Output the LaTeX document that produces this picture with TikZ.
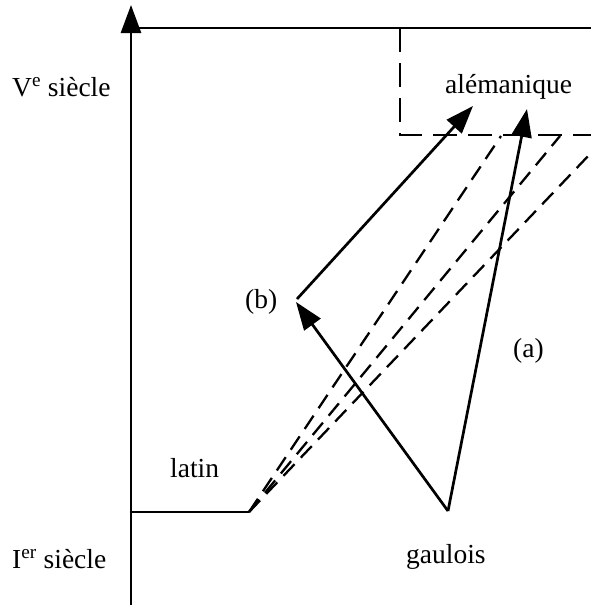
\documentclass[tikz,border=0pt]{standalone}
\usepackage{fontspec}
\setmainfont{Liberation Serif}
\usetikzlibrary{arrows.meta}
\begin{document}
\begin{tikzpicture}[x=1pt,y=-1pt,
  lbl/.style={anchor=base west,inner sep=0pt,font=\fontsize{27.5}{32}\selectfont},
  solidline/.style={line width=2.7pt},
  dashline/.style={line width=2.3pt,dash pattern=on 16pt off 9pt},
  boxdash/.style={line width=2.7pt,dash pattern=on 24pt off 11pt},
  tip/.style={-{Triangle[length=28pt,width=20pt]}}]
\useasboundingbox (0,0) rectangle (591,605);
% coordinates
\coordinate (axb) at (131,605);
\coordinate (axt) at (131,5);
\coordinate (tl) at (131,28);
\coordinate (tr) at (591,28);
\coordinate (bx1) at (400,28);
\coordinate (bx2) at (400,135);
\coordinate (bx3) at (591,135);
\coordinate (la0) at (131,512);
\coordinate (la1) at (249,512);
\coordinate (d1) at (501,136);
\coordinate (d2) at (560,136);
\coordinate (d3) at (591,153);
\coordinate (g) at (448,511);
\coordinate (b) at (296,302);
\coordinate (bt) at (473,106);
\coordinate (at) at (527,109);
% axis and frame
\draw[solidline,tip] (axb) -- (axt);
\draw[solidline] (tl) -- (tr);
\draw[boxdash] (bx1) -- (bx2) -- (bx3);
% latin
\draw[solidline] (la0) -- (la1);
\draw[dashline] (la1) -- (d1);
\draw[dashline] (la1) -- (d2);
\draw[dashline] (la1) -- (d3);
% gaulois arrows
\draw[solidline,tip] (g) -- (b);
\draw[solidline,tip] (g) -- (at);
\draw[solidline,tip] ([shift={(1,-3)}]b) -- (bt);
% labels
\node[lbl] (ve) at (12,96) {V\textsuperscript{e} siècle};
\node[lbl] (ier) at (12,568) {I\textsuperscript{er} siècle};
\node[lbl] (alem) at (445,93) {alémanique};
\node[lbl] (lat) at (170,477) {latin};
\node[lbl] (gau) at (406,563) {gaulois};
\node[lbl] (lb) at (245,308) {(b)};
\node[lbl] (la) at (513,357) {(a)};
\end{tikzpicture}
\end{document}
